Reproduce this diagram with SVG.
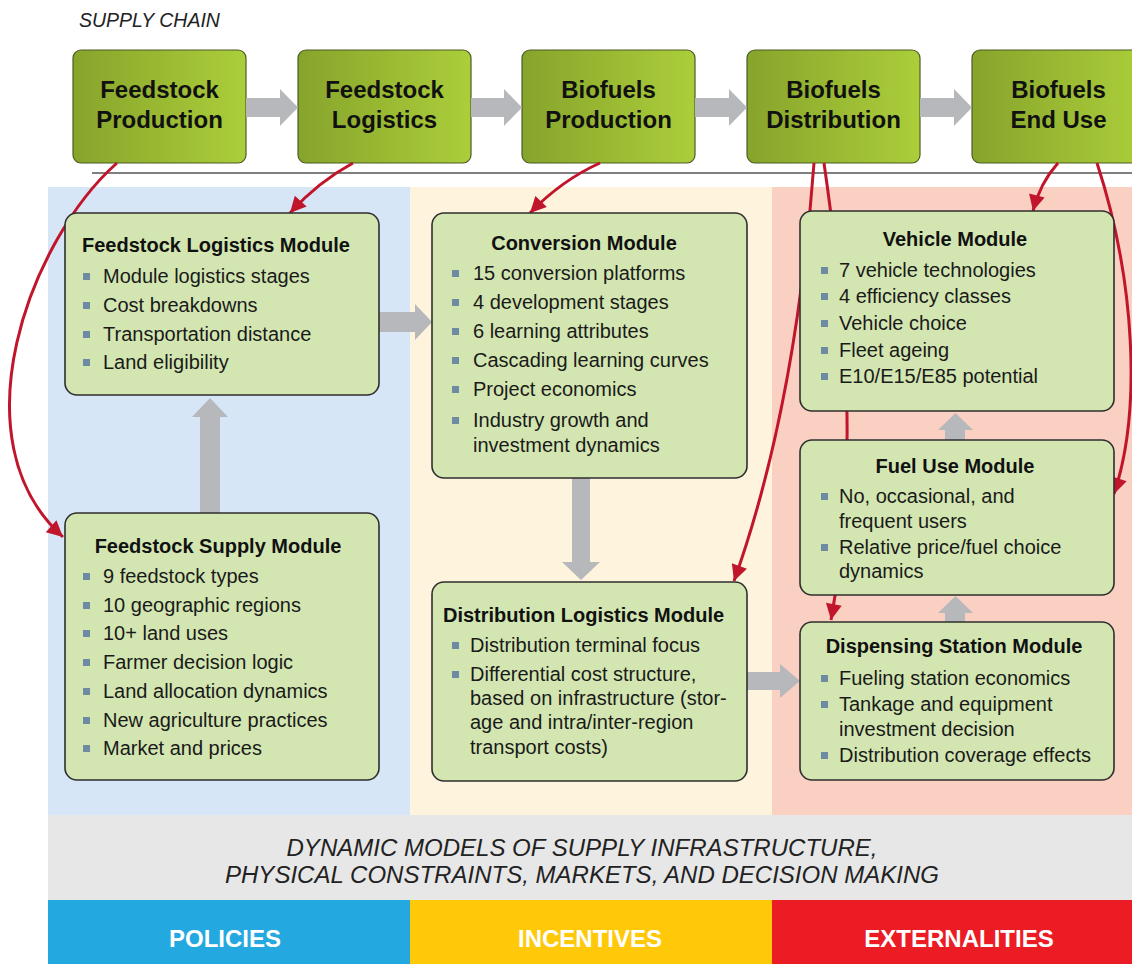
<svg xmlns="http://www.w3.org/2000/svg" width="1132" height="964" viewBox="0 0 1132 964">
<defs>
<linearGradient id="gTop" x1="0" y1="0" x2="1" y2="0">
<stop offset="0" stop-color="#87a42b"/>
<stop offset="1" stop-color="#abce3a"/>
</linearGradient>
<marker id="ah" viewBox="0 0 10 10" refX="10" refY="5" markerWidth="20" markerHeight="16" markerUnits="userSpaceOnUse" orient="auto">
<path d="M0,0 L10,5 L0,10 z" fill="#c1152b"/>
</marker>
</defs>
<style>
.sans{font-family:"Liberation Sans",Arial,sans-serif}
.topbox{fill:url(#gTop);stroke:#4d5b25;stroke-width:1.2}
.tt{font-family:"Liberation Sans",Arial,sans-serif;font-weight:bold;font-size:24px;fill:#111;text-anchor:middle}
.mod{fill:#d3e6b1;stroke:#2e2e2e;stroke-width:1.6}
.mt{font-family:"Liberation Sans",Arial,sans-serif;font-weight:bold;font-size:20px;fill:#111}
.ctr{text-anchor:middle}
.it{font-family:"Liberation Sans",Arial,sans-serif;font-size:20px;fill:#1a1a1a}
.b{fill:#6e8ba3}
.ga{fill:#b7b8bc}
.red{fill:none;stroke:#c1152b;stroke-width:3;marker-end:url(#ah)}
.band{font-family:"Liberation Sans",Arial,sans-serif;font-style:italic;font-size:23px;fill:#222;text-anchor:middle}
.lab{font-family:"Liberation Sans",Arial,sans-serif;font-weight:bold;font-size:24px;fill:#fff;text-anchor:middle}
</style>
<rect x="0" y="0" width="1132" height="964" fill="#fff"/>

<text x="79" y="27" class="sans" font-style="italic" font-size="19.5" fill="#222">SUPPLY CHAIN</text>

<!-- background panels -->
<g id="panels">
<rect x="48" y="187" width="362" height="628" fill="#d6e6f6"/>
<rect x="410" y="187" width="362" height="628" fill="#fef3dc"/>
<rect x="772" y="187" width="360" height="628" fill="#fad0c2"/>
<rect x="48" y="815" width="1084" height="85" fill="#e7e7e7"/>
<rect x="48" y="900" width="362" height="64" fill="#24a8e0"/>
<rect x="410" y="900" width="362" height="64" fill="#ffc90a"/>
<rect x="772" y="900" width="360" height="64" fill="#ec1c24"/>
</g>
<line x1="92" y1="173" x2="1132" y2="173" stroke="#555" stroke-width="1.5"/>

<!-- top supply chain -->
<g id="sc1"><rect class="topbox" x="73" y="50" width="173" height="113" rx="8"/>
<text class="tt" x="159.5" y="98">Feedstock</text><text class="tt" x="159.5" y="128">Production</text></g>
<g id="sc2"><rect class="topbox" x="298" y="50" width="173" height="113" rx="8"/>
<text class="tt" x="384.5" y="98">Feedstock</text><text class="tt" x="384.5" y="128">Logistics</text></g>
<g id="sc3"><rect class="topbox" x="522" y="50" width="173" height="113" rx="8"/>
<text class="tt" x="608.5" y="98">Biofuels</text><text class="tt" x="608.5" y="128">Production</text></g>
<g id="sc4"><rect class="topbox" x="747" y="50" width="173" height="113" rx="8"/>
<text class="tt" x="833.5" y="98">Biofuels</text><text class="tt" x="833.5" y="128">Distribution</text></g>
<g id="sc5"><rect class="topbox" x="972" y="50" width="173" height="113" rx="8"/>
<text class="tt" x="1058.5" y="98">Biofuels</text><text class="tt" x="1058.5" y="128">End Use</text></g>

<!-- connectors -->
<g id="connectors">
<polygon class="ga" points="246,98 280,98 280,89 298,107.5 280,126 280,117 246,117"/>
<polygon class="ga" points="471,98 504,98 504,89 522,107.5 504,126 504,117 471,117"/>
<polygon class="ga" points="695,98 729,98 729,89 747,107.5 729,126 729,117 695,117"/>
<polygon class="ga" points="920,98 954,98 954,89 972,107.5 954,126 954,117 920,117"/>
<polygon class="ga" points="200,513 200,417 192,417 210,398 228,417 220,417 220,513"/>
<polygon class="ga" points="379,312 415,312 415,304 432,322 415,340 415,332 379,332"/>
<polygon class="ga" points="572,478 572,562 562,562 581,580 600,562 590,562 590,478"/>
<polygon class="ga" points="747,672 780,672 780,664 800,681 780,698 780,690 747,690"/>
<polygon class="ga" points="945,440 945,430 938,430 955.5,413 973,430 965,430 965,440"/>
<polygon class="ga" points="945,622 945,613 938,613 955.5,596 973,613 965,613 965,622"/>
<path class="red" d="M117 163 C30 240 -45 440 63 537"/>
<path class="red" d="M353 163 Q318 182 290 213"/>
<path class="red" d="M600 163 Q562 180 530 213"/>
<path class="red" d="M814 163 C806 270 788 430 734 581"/>
<path class="red" d="M824 163 C848 330 858 470 831 620"/>
<path class="red" d="M1058 163 Q1040 183 1033 211"/>
<path class="red" d="M1097 163 C1135 280 1142 410 1114 494"/>
</g>

<!-- modules -->
<g id="feedstock-logistics">
<rect class="mod" x="65" y="213" width="314" height="182" rx="12"/>
<text class="mt" x="82" y="252">Feedstock Logistics Module</text>
<rect class="b" x="83" y="273" width="7" height="7"/><text class="it" x="103" y="283">Module logistics stages</text>
<rect class="b" x="83" y="302" width="7" height="7"/><text class="it" x="103" y="312">Cost breakdowns</text>
<rect class="b" x="83" y="331" width="7" height="7"/><text class="it" x="103" y="341">Transportation distance</text>
<rect class="b" x="83" y="359" width="7" height="7"/><text class="it" x="103" y="369">Land eligibility</text>
</g>

<g id="feedstock-supply">
<rect class="mod" x="65" y="513" width="314" height="267" rx="12"/>
<text class="mt ctr" x="218" y="553">Feedstock Supply Module</text>
<rect class="b" x="83" y="573" width="7" height="7"/><text class="it" x="103" y="583">9 feedstock types</text>
<rect class="b" x="83" y="602" width="7" height="7"/><text class="it" x="103" y="612">10 geographic regions</text>
<rect class="b" x="83" y="630" width="7" height="7"/><text class="it" x="103" y="640">10+ land uses</text>
<rect class="b" x="83" y="659" width="7" height="7"/><text class="it" x="103" y="669">Farmer decision logic</text>
<rect class="b" x="83" y="688" width="7" height="7"/><text class="it" x="103" y="698">Land allocation dynamics</text>
<rect class="b" x="83" y="717" width="7" height="7"/><text class="it" x="103" y="727">New agriculture practices</text>
<rect class="b" x="83" y="745" width="7" height="7"/><text class="it" x="103" y="755">Market and prices</text>
</g>

<g id="conversion">
<rect class="mod" x="432" y="213" width="315" height="265" rx="12"/>
<text class="mt ctr" x="584" y="250">Conversion Module</text>
<rect class="b" x="452" y="270" width="7" height="7"/><text class="it" x="473" y="280">15 conversion platforms</text>
<rect class="b" x="452" y="299" width="7" height="7"/><text class="it" x="473" y="309">4 development stages</text>
<rect class="b" x="452" y="328" width="7" height="7"/><text class="it" x="473" y="338">6 learning attributes</text>
<rect class="b" x="452" y="357" width="7" height="7"/><text class="it" x="473" y="367">Cascading learning curves</text>
<rect class="b" x="452" y="386" width="7" height="7"/><text class="it" x="473" y="396">Project economics</text>
<rect class="b" x="452" y="417" width="7" height="7"/><text class="it" x="473" y="427">Industry growth and</text>
<text class="it" x="473" y="452">investment dynamics</text>
</g>

<g id="distribution-logistics">
<rect class="mod" x="432" y="582" width="315" height="199" rx="12"/>
<text class="mt" x="443" y="622">Distribution Logistics Module</text>
<rect class="b" x="452" y="642" width="7" height="7"/><text class="it" x="470" y="652">Distribution terminal focus</text>
<rect class="b" x="452" y="671" width="7" height="7"/><text class="it" x="470" y="681">Differential cost structure,</text>
<text class="it" x="470" y="705">based on infrastructure (stor-</text>
<text class="it" x="470" y="729">age and intra/inter-region</text>
<text class="it" x="470" y="754">transport costs)</text>
</g>

<g id="vehicle">
<rect class="mod" x="800" y="211" width="314" height="200" rx="12"/>
<text class="mt ctr" x="955" y="246">Vehicle Module</text>
<rect class="b" x="821" y="267" width="7" height="7"/><text class="it" x="839" y="277">7 vehicle technologies</text>
<rect class="b" x="821" y="293" width="7" height="7"/><text class="it" x="839" y="303">4 efficiency classes</text>
<rect class="b" x="821" y="320" width="7" height="7"/><text class="it" x="839" y="330">Vehicle choice</text>
<rect class="b" x="821" y="347" width="7" height="7"/><text class="it" x="839" y="357">Fleet ageing</text>
<rect class="b" x="821" y="373" width="7" height="7"/><text class="it" x="839" y="383">E10/E15/E85 potential</text>
</g>

<g id="fuel-use">
<rect class="mod" x="800" y="440" width="314" height="155" rx="12"/>
<text class="mt ctr" x="955" y="473">Fuel Use Module</text>
<rect class="b" x="821" y="493" width="7" height="7"/><text class="it" x="839" y="503">No, occasional, and</text>
<text class="it" x="839" y="528">frequent users</text>
<rect class="b" x="821" y="544" width="7" height="7"/><text class="it" x="839" y="554">Relative price/fuel choice</text>
<text class="it" x="839" y="578">dynamics</text>
</g>

<g id="dispensing-station">
<rect class="mod" x="800" y="622" width="314" height="158" rx="12"/>
<text class="mt ctr" x="954" y="653">Dispensing Station Module</text>
<rect class="b" x="821" y="675" width="7" height="7"/><text class="it" x="839" y="685">Fueling station economics</text>
<rect class="b" x="821" y="701" width="7" height="7"/><text class="it" x="839" y="711">Tankage and equipment</text>
<text class="it" x="839" y="736">investment decision</text>
<rect class="b" x="821" y="752" width="7" height="7"/><text class="it" x="839" y="762">Distribution coverage effects</text>
</g>

<!-- bottom texts -->
<text class="band" x="582" y="856" textLength="591" lengthAdjust="spacingAndGlyphs">DYNAMIC MODELS OF SUPPLY INFRASTRUCTURE,</text>
<text class="band" x="582" y="883" textLength="714" lengthAdjust="spacingAndGlyphs">PHYSICAL CONSTRAINTS, MARKETS, AND DECISION MAKING</text>
<text class="lab" x="225" y="947">POLICIES</text>
<text class="lab" x="590" y="947">INCENTIVES</text>
<text class="lab" x="959" y="947">EXTERNALITIES</text>
</svg>
